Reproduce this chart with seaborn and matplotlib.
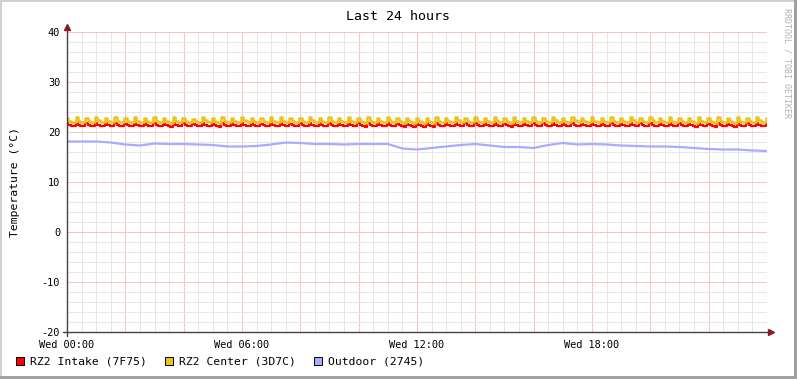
import numpy as np
import matplotlib
matplotlib.use("Agg")
import matplotlib.pyplot as plt
import seaborn as sns
from matplotlib.patches import Rectangle

# RZ2 Center (3D7C), 5-minute samples over 24 h
center = [
    22.9, 22.3, 22.1, 22.0, 23.0, 22.3, 22.1, 22.0, 22.8, 22.2, 22.1, 22.0,
    23.1, 22.4, 22.1, 22.0, 22.9, 22.3, 22.1, 22.0, 23.0, 22.3, 22.1, 22.1,
    22.8, 22.2, 22.0, 22.0, 23.0, 22.3, 22.1, 22.0, 22.9, 22.2, 22.0, 22.0,
    23.0, 22.3, 22.1, 22.0, 22.8, 22.2, 22.0, 21.9, 23.1, 22.3, 22.1, 22.0,
    22.9, 22.3, 22.1, 22.0, 22.7, 22.2, 22.0, 22.0, 23.0, 22.4, 22.1, 22.0,
    22.8, 22.2, 22.0, 21.9, 23.0, 22.3, 22.1, 22.0, 22.9, 22.3, 22.1, 22.0,
    23.1, 22.4, 22.2, 22.0, 22.9, 22.3, 22.1, 22.0, 22.8, 22.2, 22.0, 22.0,
    23.0, 22.3, 22.1, 22.0, 23.0, 22.3, 22.1, 22.0, 22.8, 22.2, 22.1, 22.0,
    22.9, 22.3, 22.1, 22.0, 23.1, 22.4, 22.1, 22.0, 22.9, 22.2, 22.0, 22.0,
    23.0, 22.3, 22.1, 22.0, 22.8, 22.2, 22.0, 22.0, 23.0, 22.3, 22.1, 22.0,
    22.9, 22.2, 22.0, 21.9, 23.0, 22.3, 22.1, 22.0, 22.9, 22.3, 22.1, 22.0,
    23.0, 22.4, 22.1, 22.0, 22.8, 22.2, 22.0, 21.9, 22.9, 22.2, 22.0, 21.9,
    22.8, 22.2, 22.0, 21.9, 22.9, 22.3, 22.0, 21.9, 23.0, 22.3, 22.1, 22.0,
    22.9, 22.3, 22.1, 22.0, 23.1, 22.4, 22.1, 22.0, 22.9, 22.3, 22.1, 22.0,
    23.0, 22.3, 22.1, 22.0, 22.9, 22.2, 22.0, 22.0, 23.1, 22.4, 22.1, 22.0,
    22.8, 22.2, 22.0, 21.9, 23.0, 22.3, 22.1, 22.0, 22.9, 22.3, 22.1, 22.0,
    23.0, 22.3, 22.1, 22.0, 22.9, 22.3, 22.1, 22.0, 23.0, 22.4, 22.1, 22.0,
    22.9, 22.3, 22.1, 22.0, 23.1, 22.4, 22.2, 22.0, 22.8, 22.2, 22.0, 22.0,
    23.0, 22.3, 22.1, 22.0, 22.9, 22.3, 22.1, 22.0, 23.0, 22.3, 22.1, 22.0,
    22.8, 22.2, 22.0, 22.0, 23.0, 22.4, 22.1, 22.0, 22.9, 22.3, 22.1, 22.0,
    23.1, 22.4, 22.1, 22.0, 22.9, 22.3, 22.1, 22.0, 23.0, 22.3, 22.1, 22.0,
    22.9, 22.3, 22.1, 22.0, 22.8, 22.2, 22.0, 21.9, 23.0, 22.3, 22.1, 22.0,
    22.9, 22.2, 22.0, 21.9, 23.0, 22.3, 22.1, 22.0, 22.8, 22.2, 22.0, 21.9,
    23.0, 22.3, 22.1, 22.0, 22.9, 22.3, 22.1, 22.0, 23.1, 22.4, 22.1, 22.0,
    22.9,
]

# RZ2 Intake (7F75), 5-minute samples over 24 h
intake = [
    21.8, 21.5, 21.3, 21.2, 21.9, 21.5, 21.3, 21.2, 21.8, 21.4, 21.3, 21.2,
    21.9, 21.5, 21.3, 21.2, 21.8, 21.5, 21.3, 21.2, 21.9, 21.5, 21.3, 21.3,
    21.7, 21.4, 21.2, 21.2, 21.8, 21.5, 21.3, 21.2, 21.8, 21.4, 21.2, 21.2,
    21.8, 21.5, 21.3, 21.2, 21.7, 21.4, 21.2, 21.1, 21.9, 21.5, 21.3, 21.2,
    21.8, 21.5, 21.3, 21.2, 21.7, 21.4, 21.2, 21.2, 21.8, 21.5, 21.3, 21.2,
    21.7, 21.4, 21.2, 21.1, 21.8, 21.5, 21.3, 21.2, 21.8, 21.5, 21.3, 21.2,
    21.9, 21.5, 21.3, 21.2, 21.8, 21.5, 21.3, 21.2, 21.7, 21.4, 21.2, 21.2,
    21.8, 21.5, 21.3, 21.2, 21.8, 21.5, 21.3, 21.2, 21.7, 21.4, 21.3, 21.2,
    21.8, 21.5, 21.3, 21.2, 21.9, 21.5, 21.3, 21.2, 21.8, 21.4, 21.2, 21.2,
    21.8, 21.5, 21.3, 21.2, 21.7, 21.4, 21.2, 21.2, 21.8, 21.5, 21.3, 21.2,
    21.8, 21.4, 21.2, 21.1, 21.8, 21.5, 21.3, 21.2, 21.8, 21.5, 21.3, 21.2,
    21.8, 21.5, 21.3, 21.2, 21.7, 21.4, 21.2, 21.1, 21.7, 21.4, 21.2, 21.1,
    21.7, 21.4, 21.2, 21.1, 21.8, 21.4, 21.2, 21.1, 21.8, 21.5, 21.3, 21.2,
    21.8, 21.5, 21.3, 21.2, 21.9, 21.5, 21.3, 21.2, 21.8, 21.5, 21.3, 21.2,
    21.8, 21.5, 21.3, 21.2, 21.8, 21.4, 21.2, 21.2, 21.9, 21.5, 21.3, 21.2,
    21.7, 21.4, 21.2, 21.1, 21.8, 21.5, 21.3, 21.2, 21.8, 21.5, 21.3, 21.2,
    21.8, 21.5, 21.3, 21.2, 21.8, 21.5, 21.3, 21.2, 21.8, 21.5, 21.3, 21.2,
    21.8, 21.5, 21.3, 21.2, 21.9, 21.5, 21.3, 21.2, 21.7, 21.4, 21.2, 21.2,
    21.8, 21.5, 21.3, 21.2, 21.8, 21.5, 21.3, 21.2, 21.8, 21.5, 21.3, 21.2,
    21.7, 21.4, 21.2, 21.2, 21.8, 21.5, 21.3, 21.2, 21.8, 21.5, 21.3, 21.2,
    21.9, 21.5, 21.3, 21.2, 21.8, 21.5, 21.3, 21.2, 21.8, 21.5, 21.3, 21.2,
    21.8, 21.5, 21.3, 21.2, 21.7, 21.4, 21.2, 21.1, 21.8, 21.5, 21.3, 21.2,
    21.7, 21.4, 21.2, 21.1, 21.8, 21.5, 21.3, 21.2, 21.7, 21.4, 21.2, 21.1,
    21.8, 21.5, 21.3, 21.2, 21.8, 21.5, 21.3, 21.2, 21.9, 21.5, 21.3, 21.2,
    21.8,
]

# Outdoor (2745), 30-minute samples over 24 h
outdoor = [
    18.1, 18.1, 18.1, 17.9, 17.5, 17.3, 17.7, 17.6, 17.6, 17.5,
    17.4, 17.1, 17.1, 17.2, 17.5, 17.9, 17.8, 17.6, 17.6, 17.5,
    17.6, 17.6, 17.6, 16.7, 16.5, 16.8, 17.1, 17.4, 17.6, 17.3,
    17.0, 17.0, 16.8, 17.4, 17.8, 17.5, 17.6, 17.5, 17.3, 17.2,
    17.1, 17.1, 17.0, 16.8, 16.6, 16.5, 16.5, 16.3, 16.2,
]

x_ticks = [0, 6, 12, 18]
x_labels = ["Wed 00:00", "Wed 06:00", "Wed 12:00", "Wed 18:00"]
y_ticks = [-20, -10, 0, 10, 20, 30, 40]

series_names = ["RZ2 Intake (7F75)", "RZ2 Center (3D7C)", "Outdoor (2745)"]
series_colors = ["#ff0000", "#ecc21c", "#aaaaff"]

sns.set_theme(style="white")
plt.rcParams["font.family"] = ["DejaVu Sans Mono"]
plt.rcParams["axes.unicode_minus"] = False

W, H = 797, 379
fig = plt.figure(figsize=(W / 100, H / 100), dpi=100)
fig.patch.set_facecolor("white")

ax = fig.add_axes([67 / W, 47 / H, 700 / W, 300 / H])
ax.set_facecolor("white")

# grid
for v in np.arange(0, 24.01, 0.5):
    col = "#f6c6c6" if v % 2 == 0 else "#e6e6e6"
    ax.axvline(v, color=col, lw=0.72, zorder=0)
for t in range(-20, 41, 2):
    col = "#f6c6c6" if t % 10 == 0 else "#e6e6e6"
    ax.axhline(t, color=col, lw=0.72, zorder=0)

hours5 = np.arange(len(center)) / 12
hours30 = np.arange(len(outdoor)) / 2

sns.lineplot(x=hours5, y=intake, color=series_colors[0], lw=1.6,
             estimator=None, drawstyle="steps-mid", ax=ax, zorder=3)
sns.lineplot(x=hours5, y=center, color=series_colors[1], lw=1.8,
             estimator=None, drawstyle="steps-mid", ax=ax, zorder=4)
sns.lineplot(x=hours30, y=outdoor, color=series_colors[2], lw=1.6,
             estimator=None, ax=ax, zorder=5)

ax.set_xlim(0, 24)
ax.set_ylim(-20, 40)
for s in ax.spines.values():
    s.set_visible(False)

ax.set_xticks(x_ticks)
ax.set_xticklabels(x_labels)
ax.set_yticks(y_ticks)
ax.tick_params(axis="both", length=0, labelsize=7.4, colors="black")
ax.tick_params(axis="x", pad=6)
ax.tick_params(axis="y", pad=5)
ax.set_xlabel("")
ax.set_ylabel("")

# axes with arrows
axis_col = "#4a4040"
arrow_col = "#8b1a1a"
ax.plot([-0.14, 24.1], [-20, -20], color=axis_col, lw=1, clip_on=False, zorder=6)
ax.plot([0, 0], [-20.8, 40.8], color=axis_col, lw=1, clip_on=False, zorder=6)
ax.plot([24.15], [-20], marker=">", ms=5, color=arrow_col, clip_on=False, zorder=7)
ax.plot([0], [41.1], marker="^", ms=5, color=arrow_col, clip_on=False, zorder=7)

# texts
fig.text(398 / W, 1 - 16 / H, "Last 24 hours", ha="center", va="center",
         fontsize=9.5, color="black")
fig.text(15 / W, 1 - 182 / H, "Temperature (°C)", rotation=90,
         ha="center", va="center", fontsize=8.2, color="black")
fig.text(787 / W, 1 - 63 / H, "RRDTOOL / TOBI OETIKER", rotation=270,
         ha="center", va="center", fontsize=6, color="#b0b0b0")

# legend
legend_x = [16, 165, 314]
for lx, name, col in zip(legend_x, series_names, series_colors):
    fig.patches.append(Rectangle((lx / W, 1 - 365 / H), 8 / W, 8 / H,
                                 transform=fig.transFigure, facecolor=col,
                                 edgecolor="black", lw=0.7))
    fig.text((lx + 14) / W, 1 - 361 / H, name, ha="left", va="center",
             fontsize=8.2, color="black")

# 3D frame around the image
fig.patches.append(Rectangle((0, 0), 2 / W, 1, transform=fig.transFigure,
                             facecolor="#d0d0d0", edgecolor="none"))
fig.patches.append(Rectangle((0, 1 - 2 / H), 1, 2 / H, transform=fig.transFigure,
                             facecolor="#d0d0d0", edgecolor="none"))
fig.patches.append(Rectangle((1 - 3 / W, 0), 3 / W, 1, transform=fig.transFigure,
                             facecolor="#a0a0a0", edgecolor="none"))
fig.patches.append(Rectangle((0, 0), 1, 3 / H, transform=fig.transFigure,
                             facecolor="#a0a0a0", edgecolor="none"))

fig.savefig("out.png", dpi=100)
